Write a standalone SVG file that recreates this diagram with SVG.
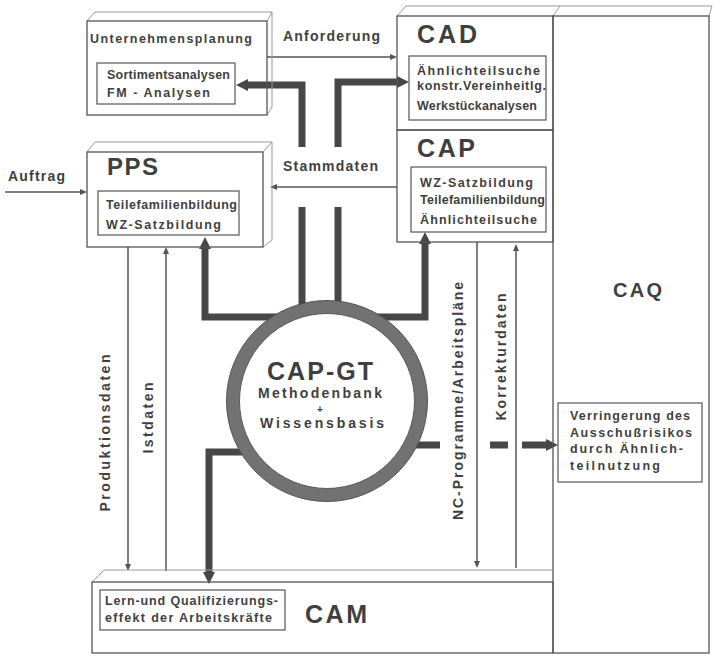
<svg xmlns="http://www.w3.org/2000/svg" width="714" height="658" viewBox="0 0 714 658">
<style>
.box{fill:none;stroke:#555;stroke-width:1.3}
.back{fill:none;stroke:#999;stroke-width:1}
.inner{fill:#fff;stroke:#555;stroke-width:1.2}
.t{font-family:"Liberation Sans",Arial,sans-serif;font-weight:bold;fill:#3f3f3f}
.s{font-size:12.5px}
.m{font-size:14px}
.big{font-size:25px}
.thin{stroke:#555;stroke-width:1.5;fill:none}
.thick{stroke:#474747;stroke-width:7;fill:none}
</style>
<defs>
<marker id="ah" markerUnits="userSpaceOnUse" markerWidth="14" markerHeight="14" refX="2" refY="6" orient="auto"><path d="M0,0 L12,6 L0,12 z" fill="#474747"/></marker>
<marker id="at" markerUnits="userSpaceOnUse" markerWidth="8" markerHeight="8" refX="1" refY="3" orient="auto"><path d="M0,0 L7,3 L0,6 z" fill="#555"/></marker>
</defs>
<rect width="714" height="658" fill="#fff"/>

<g id="connectors">
<path class="thick" d="M302,147 V85 H246" marker-end="url(#ah)"/>
<path class="thick" d="M338,147 V82 H399" marker-end="url(#ah)"/>
<path class="thick" d="M302,207 V320"/>
<path class="thick" d="M338,207 V320"/>
<path class="thick" d="M300,317 H205 V247" marker-end="url(#ah)"/>
<path class="thick" d="M360,317 H425 V242" marker-end="url(#ah)"/>
<path class="thick" d="M300,452 H209 V574" marker-end="url(#ah)"/>
<path class="thick" d="M380,445 H440 M490,445 H508"/>
<path class="thick" d="M522,445 H548" marker-end="url(#ah)"/>
<path class="thin" d="M267,57 H391" marker-end="url(#at)"/>
<path class="thin" d="M397,187 H276" marker-end="url(#at)"/>
<path class="thin" d="M5,192 H81" marker-end="url(#at)"/>
<path class="thin" d="M128,247 V565" marker-end="url(#at)"/>
<path class="thin" d="M166,571 V253" marker-end="url(#at)"/>
<path class="thin" d="M477,242 V562" marker-end="url(#at)"/>
<path class="thin" d="M516,568 V250" marker-end="url(#at)"/>
<text class="t m" x="283" y="41" textLength="97">Anforderung</text>
<text class="t m" x="283" y="171" textLength="95">Stammdaten</text>
<text class="t m" x="8" y="181" textLength="57">Auftrag</text>
<text class="t m" text-anchor="middle" transform="translate(110,433) rotate(-90)" textLength="157">Produktionsdaten</text>
<text class="t m" text-anchor="middle" transform="translate(153,418) rotate(-90)" textLength="71">Istdaten</text>
<text class="t m" text-anchor="middle" transform="translate(463,401) rotate(-90)" textLength="238">NC-Programme/Arbeitspläne</text>
<text class="t m" text-anchor="middle" transform="translate(506,357) rotate(-90)" textLength="127">Korrekturdaten</text>
</g>

<g id="unternehmensplanung">
<path class="back" d="M87,21 L95,12 H272 V107 L267,115 M267,21 L272,12"/>
<rect class="box" x="87" y="21" width="180" height="94"/>
<text class="t s" x="90" y="43" textLength="162">Unternehmensplanung</text>
<rect class="inner" x="97" y="63" width="138" height="41"/>
<text class="t s" x="107" y="79" textLength="123">Sortimentsanalysen</text>
<text class="t s" x="107" y="97" textLength="103">FM - Analysen</text>
</g>

<g id="pps">
<path class="back" d="M87,152 L95,142 H272 V240 L263,247 M263,152 L272,142"/>
<rect class="box" x="87" y="152" width="176" height="95"/>
<text class="t" x="107" y="175" font-size="24" textLength="51">PPS</text>
<rect class="inner" x="98" y="191" width="141" height="44"/>
<text class="t s" x="106" y="209" textLength="131">Teilefamilienbildung</text>
<text class="t s" x="106" y="229" textLength="115">WZ-Satzbildung</text>
</g>

<g id="cad">
<path class="back" d="M397,16 L406,6 H712 L709,16 M553,16 L560,6"/>
<rect class="box" x="397" y="16" width="156" height="114"/>
<text class="t big" x="417" y="43" textLength="60">CAD</text>
<rect class="inner" x="409" y="56" width="137" height="64"/>
<text class="t s" x="417" y="75" textLength="123">Ähnlichteilsuche</text>
<text class="t s" x="417" y="90" textLength="129">konstr.Vereinheitlg.</text>
<text class="t s" x="417" y="110" textLength="120">Werkstückanalysen</text>
</g>

<g id="cap">
<rect class="box" x="397" y="130" width="156" height="112"/>
<text class="t big" x="417" y="157" textLength="58">CAP</text>
<rect class="inner" x="411" y="167" width="135" height="65"/>
<text class="t s" x="420" y="187" textLength="113">WZ-Satzbildung</text>
<text class="t s" x="420" y="204" textLength="125">Teilefamilienbildung</text>
<text class="t s" x="420" y="224" textLength="117">Ähnlichteilsuche</text>
</g>

<g id="caq">
<rect class="box" x="553" y="16" width="156" height="637"/>
<text class="t" x="613" y="297" font-size="20" textLength="49">CAQ</text>
<rect class="inner" x="558" y="403" width="144" height="79"/>
<text class="t s" x="570" y="420" textLength="120">Verringerung des</text>
<text class="t s" x="570" y="437" textLength="122">Ausschußrisikos</text>
<text class="t s" x="570" y="453" textLength="113">durch Ähnlich-</text>
<text class="t s" x="570" y="470" textLength="90">teilnutzung</text>
</g>

<g id="cam">
<path class="back" d="M92,582 L104,570 H553"/>
<rect class="box" x="92" y="582" width="461" height="71"/>
<rect class="inner" x="100" y="590" width="185" height="40"/>
<text class="t s" x="105" y="605" textLength="173">Lern-und Qualifizierungs-</text>
<text class="t s" x="105" y="622" textLength="167">effekt der Arbeitskräfte</text>
<text class="t big" x="305" y="623" textLength="62">CAM</text>
</g>

<g id="cap-gt">
<circle cx="327" cy="401" r="94" fill="#fff" stroke="#727272" stroke-width="13"/>
<circle cx="327" cy="401" r="100.5" fill="none" stroke="#555" stroke-width="1"/>
<circle cx="327" cy="401" r="87.5" fill="none" stroke="#5a5a5a" stroke-width="1"/>
<text class="t big" x="320" y="380" text-anchor="middle" textLength="106">CAP-GT</text>
<text class="t m" x="320" y="398" text-anchor="middle" textLength="124">Methodenbank</text>
<text class="t" x="320" y="413" font-size="10" text-anchor="middle">+</text>
<text class="t m" x="322" y="428" text-anchor="middle" textLength="124">Wissensbasis</text>
</g>
</svg>
